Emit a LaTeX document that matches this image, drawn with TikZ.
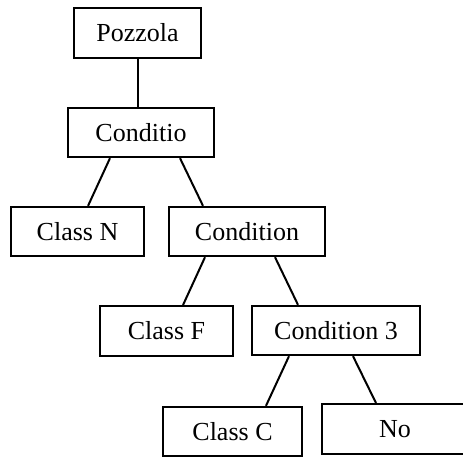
\documentclass[tikz,border=0pt]{standalone}
\usepackage{fontspec}
\setmainfont{Liberation Serif}
\usepackage{tikz}

\begin{document}
\begin{tikzpicture}[x=0.75pt,y=0.75pt,yscale=-1,xscale=1,
  box/.style={draw, line width=1.5, inner sep=0pt, font=\fontsize{19.5}{23}\selectfont},
  link/.style={line width=1.5}]
\useasboundingbox (0,0) rectangle (463,457);

% Boxes
\node [box, minimum width=95, minimum height=37.5] (pozzola) at (137.5,33) {Pozzola};
\node [box, minimum width=109.5, minimum height=37] (conditio) at (141,132.5) {Conditio};
\node [box, minimum width=100, minimum height=37] (classN) at (77.5,231.5) {Class N};
\node [box, minimum width=117, minimum height=37] (condition) at (247,231.5) {Condition};
\node [box, minimum width=100, minimum height=37.5] (classF) at (166.5,331) {Class F};
\node [box, minimum width=126, minimum height=37] (condition3) at (336,330.5) {Condition 3};
\node [box, minimum width=104, minimum height=37] (classC) at (232.5,431.5) {Class C};
\node [box, minimum width=110, minimum height=37.5] (no) at (395,429) {No};

% Links
\draw [link] (pozzola.south) -- (pozzola.south |- conditio.north);
\draw [link] ([xshift=-23.25]conditio.south) -- ([xshift=7.9]classN.north);
\draw [link] ([xshift=29.25]conditio.south) -- ([xshift=-33]condition.north);
\draw [link] ([xshift=-31.5]condition.south) -- ([xshift=12.4]classF.north);
\draw [link] ([xshift=21]condition.south) -- ([xshift=-28.5]condition3.north);
\draw [link] ([xshift=-35.25]condition3.south) -- ([xshift=25.1]classC.north);
\draw [link] ([xshift=12.75]condition3.south) -- ([xshift=-14.25]no.north);

\end{tikzpicture}
\end{document}
